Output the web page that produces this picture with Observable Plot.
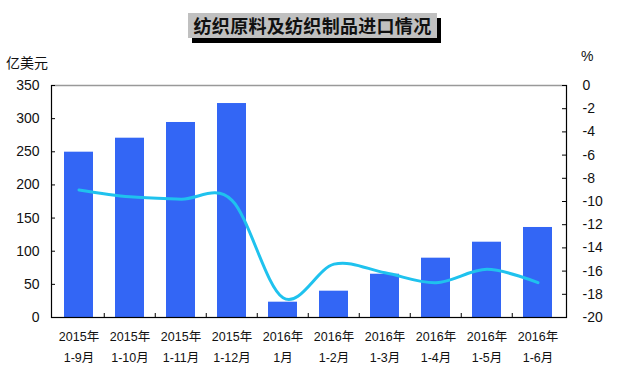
<!DOCTYPE html>
<html><head><meta charset="utf-8">
<script src="https://cdn.jsdelivr.net/npm/d3@7"></script>
<script src="https://cdn.jsdelivr.net/npm/@observablehq/plot@0.6"></script>
<style>
body{margin:0;background:#fff;}
#wrap{position:relative;width:625px;height:385px;font-family:"Liberation Sans","Noto Sans CJK SC",sans-serif;}
#title{position:absolute;left:188px;top:13px;width:249px;height:25px;background:#c0c0c0;box-shadow:4px 5px 0 #000;font-weight:bold;font-size:18px;font-family:"Noto Sans CJK SC",sans-serif;line-height:25px;text-align:center;color:#111;letter-spacing:0.3px;}
.unit{position:absolute;font-size:14px;color:#111;font-family:"Noto Sans CJK SC","Liberation Sans",sans-serif;}
#chart{position:absolute;left:0;top:0;}
</style>
</head><body>
<div id="wrap">
<div id="chart"></div>
<div id="title">纺织原料及纺织制品进口情况</div>
<div class="unit" style="left:6px;top:52px;">亿美元</div>
<div class="unit" style="left:581px;top:48px;font-family:'Liberation Sans',sans-serif;">%</div>
</div>
<script>
const years = ["2015年","2015年","2015年","2015年","2016年","2016年","2016年","2016年","2016年","2016年"];
const periods = ["1-9月","1-10月","1-11月","1-12月","1月","1-2月","1-3月","1-4月","1-5月","1-6月"];
const importValue = [249.4, 270.5, 294.2, 322.8, 23.1, 39.7, 65.3, 89.5, 113.6, 135.8];
const growthRate = [-9.0, -9.6, -9.8, -9.9, -18.3, -15.4, -16.15, -17.0, -15.85, -17.0];
const leftTicks = [0, 50, 100, 150, 200, 250, 300, 350];
const rightTicks = [0, -2, -4, -6, -8, -10, -12, -14, -16, -18, -20];

const keys = years.map((y, i) => y + "\n" + periods[i]);
const data = keys.map((k, i) => ({k, v: importValue[i], g: growthRate[i]}));

const W = 625, H = 385, mL = 51, mR = 59, mT = 85, mB = 68;
const plotW = W - mL - mR, plotH = H - mT - mB;
const step = plotW / keys.length;
// map right-axis (%) values onto the left y scale domain [0, 350]
const toLeft = p => (p + 20) / 20 * 350;
const fromLeft = v => Math.round(v / 350 * 20 - 20);

const chart = Plot.plot({
  width: W, height: H,
  marginLeft: mL, marginRight: mR, marginTop: mT, marginBottom: mB,
  style: {fontFamily: '"Liberation Sans","Noto Sans CJK SC",sans-serif', color: "#111", background: "transparent"},
  x: {domain: keys, paddingInner: 0.43, paddingOuter: 0.215, align: 0.5},
  y: {domain: [0, 350]},
  marks: [
    Plot.barY(data, {x: "k", y: "v", fill: "#3366f5"}),
    Plot.line(data, {x: "k", y: d => toLeft(d.g), stroke: "#1fc2ee", strokeWidth: 3, curve: "cardinal"}),
    Plot.frame({stroke: "#000", strokeWidth: 1.2}),
    Plot.ruleY([350], {stroke: "#999", strokeWidth: 1.2}),
    // inward ticks, left axis
    Plot.tickY(leftTicks, {y: d => d, insetRight: plotW - 4, stroke: "#000"}),
    // inward ticks, right axis
    Plot.tickY(rightTicks.map(toLeft), {y: d => d, insetLeft: plotW - 4, stroke: "#000"}),
    // category boundary ticks on x axis
    Plot.tickX(keys.slice(1), {x: d => d, dx: -step / 2, insetTop: plotH - 4, stroke: "#000"}),
    Plot.axisY(leftTicks, {anchor: "left", tickSize: 0, tickPadding: 12, fontSize: 14, label: null}),
    Plot.axisY(rightTicks.map(toLeft), {anchor: "right", tickSize: 0, tickPadding: 16, fontSize: 14, label: null, tickFormat: d => String(fromLeft(d))}),
    Plot.axisX({anchor: "bottom", tickSize: 0, tickPadding: 9, fontSize: 12.5, lineHeight: 1.65, tickFormat: d => d, label: null})
  ]
});
chart.querySelectorAll("text").forEach(t => t.style.fill = "#111");
document.getElementById("chart").appendChild(chart);
</script>
</body></html>
